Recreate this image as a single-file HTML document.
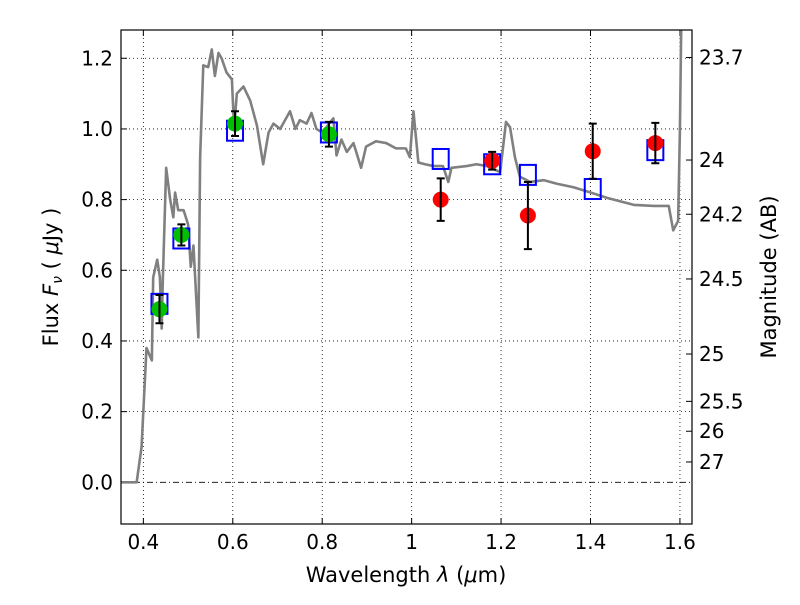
<!DOCTYPE html>
<html><head><meta charset="utf-8"><style>
body{margin:0;background:#fff}
svg text{font-family:"DejaVu Sans","Liberation Sans",sans-serif;fill:#000}
</style></head><body>
<svg id="c" width="800" height="600" xmlns="http://www.w3.org/2000/svg"></svg>
<script>
const xTicks=[0.4,0.6,0.8,1.0,1.2,1.4,1.6];
const xTickLabels=["0.4","0.6","0.8","1","1.2","1.4","1.6"];
const yTicks=[0,0.2,0.4,0.6,0.8,1.0,1.2];
const yTickLabels=["0.0","0.2","0.4","0.6","0.8","1.0","1.2"];
const magTicks=[23.7,24,24.2,24.5,25,25.5,26,27];
const magTickLabels=["23.7","24","24.2","24.5","25","25.5","26","27"];
const specWave=[0.35,0.385,0.396,0.407,0.419,0.422,0.431,0.437,0.441,0.443,0.451,0.46,0.467,0.471,0.478,0.49,0.50,0.506,0.512,0.523,0.527,0.534,0.545,0.553,0.56,0.568,0.575,0.586,0.598,0.603,0.609,0.624,0.639,0.654,0.668,0.68,0.691,0.706,0.728,0.74,0.75,0.765,0.776,0.787,0.80,0.825,0.832,0.843,0.855,0.87,0.887,0.898,0.92,0.943,0.965,0.987,0.996,1.004,1.015,1.03,1.049,1.07,1.082,1.089,1.123,1.145,1.168,1.198,1.211,1.22,1.231,1.242,1.265,1.295,1.325,1.362,1.40,1.437,1.467,1.497,1.542,1.575,1.585,1.596,1.6,1.603];
const specFlux=[0,0,0.10,0.38,0.345,0.58,0.63,0.58,0.435,0.55,0.89,0.80,0.75,0.82,0.77,0.77,0.73,0.61,0.67,0.41,0.92,1.18,1.175,1.225,1.15,1.215,1.20,1.16,1.14,1.00,1.10,1.12,1.08,1.01,0.90,0.99,1.015,1.00,1.05,1.00,1.025,1.015,1.045,1.00,0.99,1.03,0.925,0.97,0.935,0.96,0.89,0.95,0.965,0.96,0.945,0.945,0.92,1.05,0.905,0.90,0.895,0.895,0.85,0.89,0.895,0.90,0.895,0.878,1.02,1.005,0.92,0.865,0.85,0.855,0.845,0.835,0.82,0.805,0.795,0.785,0.782,0.782,0.713,0.74,1.0,1.3];
const modelWave=[0.436,0.485,0.605,0.815,1.065,1.18,1.26,1.405,1.545];
const modelFlux=[0.505,0.69,0.995,0.99,0.915,0.90,0.87,0.83,0.94];
const optWave=[0.436,0.485,0.605,0.815];
const optFlux=[0.49,0.70,1.015,0.985];
const optErr=[0.04,0.03,0.035,0.035];
const irWave=[1.065,1.18,1.26,1.405,1.545];
const irFlux=[0.80,0.91,0.755,0.937,0.96];
const irErr=[0.06,0.025,0.095,0.078,0.057];

const L=121,R=692,T=30,B=524,X0=0.35,X1=1.627,Y0=-0.118,Y1=1.28;
const sx=v=>L+(v-X0)/(X1-X0)*(R-L);
const sy=v=>B-(v-Y0)/(Y1-Y0)*(B-T);
const svg=document.getElementById('c');
const NS='http://www.w3.org/2000/svg';
function mk(tag,at,parent){const e=document.createElementNS(NS,tag);for(const k in at)e.setAttribute(k,at[k]);(parent||svg).appendChild(e);return e;}
const clip=mk('clipPath',{id:'pc'});mk('rect',{x:L,y:T,width:R-L,height:B-T},clip);
xTicks.forEach((t,i)=>{
 const g=mk('line',{x1:sx(t),x2:sx(t),y1:T,y2:B,stroke:'#000','stroke-width':0.8,'stroke-dasharray':'1,3'});
 
 
 mk('line',{x1:sx(t),x2:sx(t),y1:B,y2:B-6,stroke:'#000'});
 mk('line',{x1:sx(t),x2:sx(t),y1:T,y2:T+6,stroke:'#000'});
 const tx=mk('text',{x:sx(t),y:B+25,'text-anchor':'middle','font-size':20});tx.textContent=xTickLabels[i];
 
 
});
yTicks.forEach((t,i)=>{
 if(t!==0){const g=mk('line',{x1:L,x2:R,y1:sy(t),y2:sy(t),stroke:'#000','stroke-width':0.8,'stroke-dasharray':'1,3'});
 
 }
 mk('line',{x1:L,x2:L+6,y1:sy(t),y2:sy(t),stroke:'#000'});
 const tx=mk('text',{x:L-8,y:sy(t)+7,'text-anchor':'end','font-size':20});tx.textContent=yTickLabels[i];
 
 
});
const zl=mk('line',{x1:L,x2:R,y1:sy(0),y2:sy(0),stroke:'#000','stroke-width':0.8,'stroke-dasharray':'6,3,1,3'});


magTicks.forEach((m,i)=>{
 const f=Math.pow(10,-0.4*(m-23.9));
 mk('line',{x1:R,x2:R-6,y1:sy(f),y2:sy(f),stroke:'#000'});
 const tx=mk('text',{x:R+7,y:sy(f)+7,'font-size':20});tx.textContent=magTickLabels[i];
 
 
});
const sp=mk('polyline',{points:specWave.map((w,i)=>sx(w)+','+sy(specFlux[i])).join(' '),fill:'none',stroke:'#808080','stroke-width':2.6,'stroke-linejoin':'round','clip-path':'url(#pc)'});


modelWave.forEach((w,i)=>{
 const r=mk('rect',{x:sx(w)-8,y:sy(modelFlux[i])-10,width:16,height:20,fill:'none',stroke:'#0000ff','stroke-width':2});
 
 
});
function pts(ws,fs,es,col,name){ws.forEach((w,i)=>{
 const c=mk('circle',{cx:sx(w),cy:sy(fs[i]),r:8,fill:col});
 
 
 const x=sx(w),a=sy(fs[i]+es[i]),b=sy(fs[i]-es[i]);
 const e=mk('path',{d:`M${x},${a}V${b}M${x-4},${a}H${x+4}M${x-4},${b}H${x+4}`,stroke:'#000','stroke-width':2,fill:'none'});
 
 
});}
pts(optWave,optFlux,optErr,'#00c000','optical-point');
pts(irWave,irFlux,irErr,'#ff0000','nir-point');
const fr=mk('rect',{x:L,y:T,width:R-L,height:B-T,fill:'none',stroke:'#000','stroke-width':1.2});


</script>
<svg width="800" height="600" style="position:absolute;left:0;top:0">
<text x="406" y="582" text-anchor="middle" font-size="21">Wavelength  <tspan font-style="italic">λ</tspan> (<tspan font-style="italic">μ</tspan>m)</text>
<text transform="translate(58,277) rotate(-90)" text-anchor="middle" font-size="21">Flux  <tspan font-style="italic">F</tspan><tspan font-style="italic" font-size="14" dy="4">ν</tspan><tspan dy="-4">  ( </tspan><tspan font-style="italic">μ</tspan>Jy )</text>
<text transform="translate(776,277) rotate(-90)" text-anchor="middle" font-size="21">Magnitude (AB)</text>
</svg>
</body></html>
